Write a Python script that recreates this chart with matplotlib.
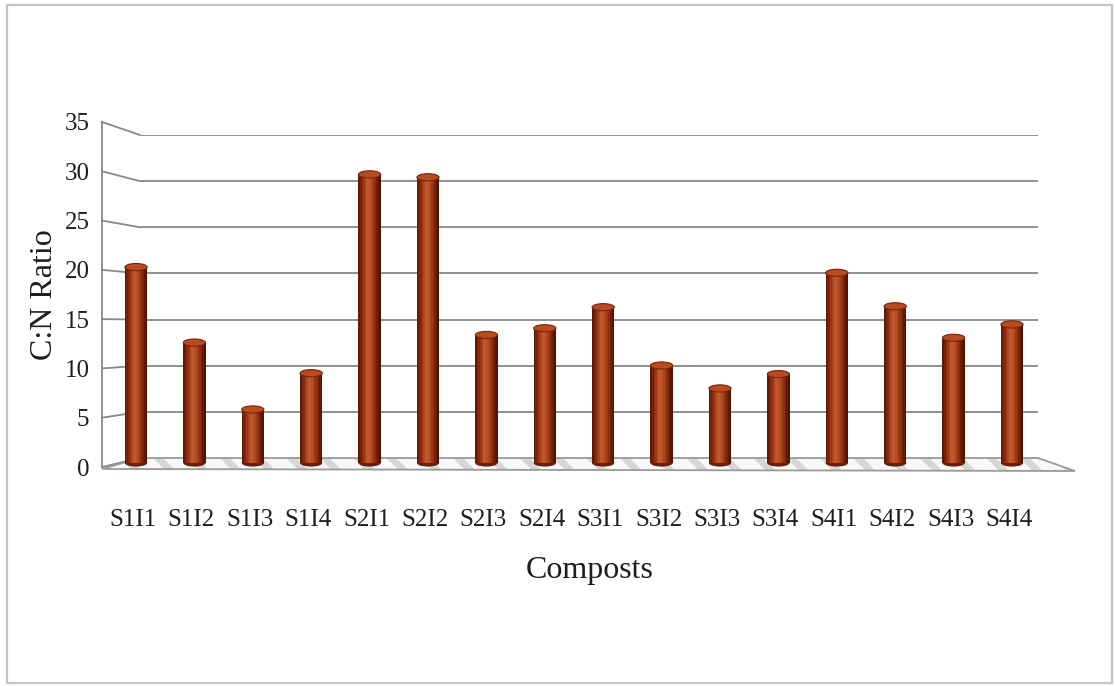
# C:N ratio of the compost treatments, drawn as Excel-style 3D cylinders

import matplotlib
matplotlib.use('Agg')
import matplotlib.pyplot as plt
from matplotlib.patches import Polygon, Rectangle, Ellipse, ConnectionPatch
from matplotlib.colors import LinearSegmentedColormap
import numpy as np


# Treatments and their C:N ratios
composts = ['S1I1', 'S1I2', 'S1I3', 'S1I4',
            'S2I1', 'S2I2', 'S2I3', 'S2I4',
            'S3I1', 'S3I2', 'S3I3', 'S3I4',
            'S4I1', 'S4I2', 'S4I3', 'S4I4']
cn_ratio = [20.5, 12.6, 5.6, 9.4,
            30.2, 29.9, 13.4, 14.1,
            16.3, 10.2, 7.8, 9.3,
            19.9, 16.4, 13.1, 14.5]
y_ticks = [0, 5, 10, 15, 20, 25, 30, 35]

plt.rcParams['font.family'] = ['Liberation Serif', 'DejaVu Serif']
plt.rcParams['hatch.linewidth'] = 5

W, H = 1115, 686
GRID = '#888888'
TEXT = '#1e1e1e'


# Axes box from pixel edges (left, top, right, bottom)
def box(left, top, right, bottom):
    return [left / W, 1 - bottom / H, (right - left) / W, (bottom - top) / H]

# Pixel point -> figure fraction
def fpt(x, y):
    return (x / W, 1 - y / H)


fig = plt.figure(figsize=(W / 100, H / 100), dpi=100)
fig.patch.set_facecolor('white')

# Outer frame
fig.patches.append(Rectangle(fpt(7, 683), 1105 / W, 678 / H, transform=fig.transFigure,
                             fill=False, edgecolor='#c4c4c4', linewidth=1.6, zorder=0))

# Back wall with the gridlines
ax_back = fig.add_axes(box(140, 135, 1038, 458))
ax_back.set_xlim(0, 1)
ax_back.set_ylim(0, 35)
for v in y_ticks[1:]:
    ax_back.axhline(v, color=GRID, linewidth=1.3)
ax_back.axis('off')
ax_back.set_zorder(0)

# Front value axis
ax_front = fig.add_axes(box(102, 122, 103, 467))
ax_front.set_ylim(0, 35)
ax_front.set_xlim(0, 1)
ax_front.set_yticks(y_ticks)
ax_front.tick_params(axis='y', length=0, pad=9, labelsize=18, labelcolor=TEXT)
ax_front.set_xticks([])
for side in ['top', 'right', 'bottom']:
    ax_front.spines[side].set_visible(False)
ax_front.spines['left'].set_color(GRID)
ax_front.spines['left'].set_linewidth(1.3)
ax_front.patch.set_visible(False)
ax_front.set_ylabel('C:N Ratio', fontsize=23, color=TEXT, labelpad=4)
ax_front.set_zorder(1)

# Side wall: join each front tick to its gridline on the back wall
for v in y_ticks:
    con = ConnectionPatch(xyA=(0, v), coordsA=ax_front.get_yaxis_transform(),
                          xyB=(0, v), coordsB=ax_back.get_yaxis_transform(),
                          color=GRID, linewidth=1.3)
    fig.add_artist(con)

# Floor: striped fill, then its outline
floor_pts = [fpt(102, 469), fpt(1075, 471), fpt(1038, 458), fpt(140, 458)]
fig.patches.append(Polygon(floor_pts, closed=True, transform=fig.transFigure,
                           facecolor='#f8f8f8', edgecolor='#d6d6d6', linewidth=0,
                           hatch='\\', zorder=2))
fig.patches.append(Polygon(floor_pts, closed=True, transform=fig.transFigure,
                           fill=False, edgecolor='#9a9a9a', linewidth=1.3, zorder=2))

# Cylinders
ax_bar = fig.add_axes(box(106.8, 128.5, 1041.2, 463))
ax_bar.set_zorder(3)
ax_bar.patch.set_visible(False)

x = np.arange(len(composts))
values = np.array(cn_ratio)
width = 0.38
n_slices = 14
shade = LinearSegmentedColormap.from_list(
    'cyl', ['#5e1a07', '#962f10', '#c45c31', '#b34a20', '#83280b', '#4e1404'])

slice_w = width / n_slices
for k in range(n_slices):
    offset = -width / 2 + (k + 0.5) * slice_w
    ax_bar.bar(x + offset, values, width=slice_w * 1.05, color=shade(k / (n_slices - 1)),
               linewidth=0, clip_on=False)

cap_h = 0.75
for xi, v in zip(x, values):
    # rounded foot
    ax_bar.add_patch(Ellipse((xi, 0), width, cap_h, facecolor='#6a1d08',
                             edgecolor='none', clip_on=False, zorder=0.5))
    # top cap
    ax_bar.add_patch(Ellipse((xi, v), width, cap_h, facecolor='#b84b20',
                             edgecolor='#7a2409', linewidth=0.8, clip_on=False, zorder=3))

ax_bar.set_xlim(-0.5, len(composts) - 0.5)
ax_bar.set_ylim(0, 35)
ax_bar.set_xticks(x - 0.05)
ax_bar.set_xticklabels(composts)
ax_bar.tick_params(axis='x', length=0, pad=33, labelsize=18, labelcolor=TEXT)
ax_bar.set_yticks([])
for side in ax_bar.spines.values():
    side.set_visible(False)
ax_bar.set_xlabel('Composts', fontsize=23, color=TEXT, labelpad=18)
ax_bar.xaxis.label.set_x(0.517)

fig.savefig('out.png', dpi=100)
